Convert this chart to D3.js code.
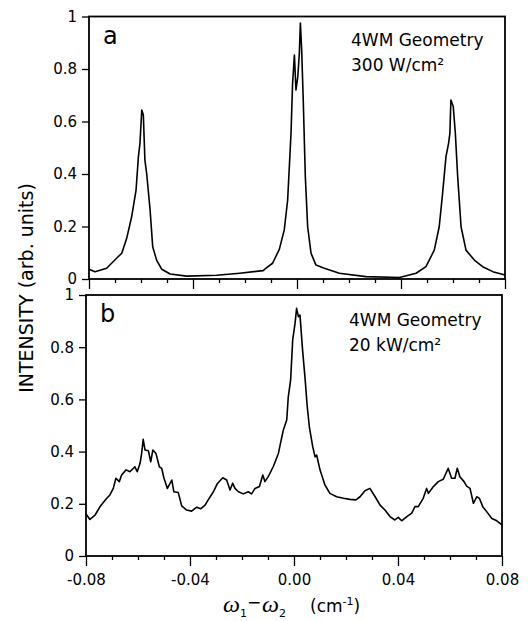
<!DOCTYPE html>
<html lang="en">
<head>
<meta charset="utf-8">
<title>4WM spectra</title>
<script src="https://cdn.jsdelivr.net/npm/d3@7"></script>
<style>
  body { margin: 0; background: #fff; }
  svg text { font-family: "DejaVu Sans", sans-serif; fill: #000; }
</style>
</head>
<body>
<svg id="chart" width="532" height="621"></svg>
<script>
// panel a: 300 W/cm2
var topX = [-0.08, -0.0777, -0.0732, -0.0694, -0.0674, -0.0655, -0.0636, -0.0619, -0.061, -0.0604,
  -0.0597, -0.0591, -0.0585, -0.0578, -0.0565, -0.0555, -0.054, -0.052, -0.0488, -0.0424,
  -0.0309, -0.022, -0.013, -0.0119, -0.0094, -0.0068, -0.0049, -0.0036, -0.0023, -0.0017,
  -0.001, -0.0004, 0.0003, 0.0009, 0.0013, 0.0018, 0.0024, 0.0032, 0.0041, 0.0054,
  0.0073, 0.0105, 0.0163, 0.0265, 0.0394, 0.0458, 0.0496, 0.0528, 0.0547, 0.056,
  0.0573, 0.0583, 0.0588, 0.0592, 0.0601, 0.0609, 0.0618, 0.0631, 0.065, 0.0682,
  0.0714, 0.0753, 0.08];
var topY = [0.037, 0.028, 0.041, 0.079, 0.098, 0.155, 0.237, 0.339, 0.466, 0.517,
  0.644, 0.625, 0.453, 0.40, 0.263, 0.123, 0.072, 0.037, 0.019, 0.011,
  0.014, 0.022, 0.032, 0.041, 0.06, 0.113, 0.187, 0.30, 0.555, 0.745,
  0.853, 0.72, 0.77, 0.86, 0.975, 0.872, 0.682, 0.39, 0.199, 0.098,
  0.053, 0.041, 0.022, 0.009, 0.006, 0.022, 0.047, 0.11, 0.199, 0.326,
  0.466, 0.517, 0.555, 0.682, 0.657, 0.555, 0.39, 0.199, 0.11, 0.072,
  0.047, 0.028, 0.015];

// panel b: 20 kW/cm2
var botX = [-0.08, -0.0797, -0.0785, -0.0765, -0.0746, -0.0736, -0.072, -0.0708, -0.0695, -0.0685,
  -0.0672, -0.0663, -0.0646, -0.0631, -0.0612, -0.0603, -0.0592, -0.0586, -0.058, -0.0573,
  -0.056, -0.0551, -0.0543, -0.0531, -0.0518, -0.0509, -0.05, -0.0487, -0.047, -0.0462,
  -0.0445, -0.0432, -0.0413, -0.0394, -0.0374, -0.0359, -0.0342, -0.033, -0.031, -0.0295,
  -0.0274, -0.0259, -0.0246, -0.0236, -0.0227, -0.0214, -0.0195, -0.0176, -0.0163, -0.015,
  -0.0133, -0.012, -0.0112, -0.0099, -0.008, -0.006, -0.0041, -0.0028, -0.0022, -0.0013,
  -0.0005, 0.0004, 0.001, 0.0017, 0.0023, 0.0033, 0.0042, 0.0051, 0.0059, 0.0072,
  0.0081, 0.0087, 0.01, 0.0119, 0.0138, 0.0164, 0.019, 0.0215, 0.0238, 0.0254,
  0.0273, 0.0292, 0.0312, 0.0331, 0.035, 0.0369, 0.0388, 0.0401, 0.0414, 0.0434,
  0.0453, 0.0465, 0.0478, 0.0497, 0.051, 0.0517, 0.0536, 0.0555, 0.0574, 0.0593,
  0.0606, 0.0619, 0.0628, 0.0638, 0.0654, 0.0664, 0.0677, 0.069, 0.0703, 0.0713,
  0.0726, 0.0741, 0.0761, 0.078, 0.08];
var botY = [0.16, 0.157, 0.14, 0.157, 0.189, 0.202, 0.221, 0.234, 0.259, 0.298,
  0.285, 0.31, 0.33, 0.323, 0.342, 0.323, 0.355, 0.393, 0.447, 0.406,
  0.403, 0.361, 0.406, 0.393, 0.342, 0.336, 0.298, 0.259, 0.291, 0.246,
  0.243, 0.192, 0.176, 0.172, 0.187, 0.181, 0.195, 0.215, 0.246, 0.277,
  0.30, 0.291, 0.253, 0.279, 0.259, 0.246, 0.238, 0.246, 0.238, 0.259,
  0.266, 0.31, 0.285, 0.304, 0.342, 0.393, 0.483, 0.521, 0.61, 0.674,
  0.828, 0.891, 0.949, 0.917, 0.923, 0.789, 0.687, 0.572, 0.495, 0.419,
  0.38, 0.387, 0.33, 0.272, 0.24, 0.227, 0.221, 0.217, 0.215, 0.227,
  0.25, 0.259, 0.227, 0.195, 0.176, 0.151, 0.138, 0.148, 0.135, 0.151,
  0.164, 0.189, 0.189, 0.221, 0.259, 0.24, 0.266, 0.285, 0.294, 0.336,
  0.298, 0.298, 0.336, 0.304, 0.285, 0.268, 0.259, 0.202, 0.227, 0.221,
  0.189, 0.17, 0.144, 0.135, 0.119];

var majorTicks = [-0.08, -0.04, 0, 0.04, 0.08];
var minorTicks = [-0.07, -0.06, -0.05, -0.03, -0.02, -0.01, 0.01, 0.02, 0.03, 0.05, 0.06, 0.07];
var yTicks = [0, 0.2, 0.4, 0.6, 0.8, 1];

var svg = d3.select("#chart");

var panels = [
  {xs: topX, ys: topY, x0: 89, x1: 505, y0: 279, y1: 16.5, letter: "a",
   note: ["4WM Geometry", "300 W/cm\u00b2"], noteX: 351, noteY: 46, labels: false},
  {xs: botX, ys: botY, x0: 86, x1: 502, y0: 556, y1: 295, letter: "b",
   note: ["4WM Geometry", "20 kW/cm\u00b2"], noteX: 349, noteY: 326, labels: true}
];

function yFmt(d) {
  if (d === 0) return "0";
  if (d === 1) return "1";
  return d.toFixed(1);
}

panels.forEach(function(p) {
  var x = d3.scaleLinear().domain([-0.08, 0.08]).range([p.x0, p.x1]);
  var y = d3.scaleLinear().domain([0, 1]).range([p.y0, p.y1]);

  // minor x ticks
  var gMin = svg.append("g")
    .attr("transform", "translate(0," + p.y0 + ")")
    .call(d3.axisBottom(x).tickValues(minorTicks).tickSize(4).tickFormat(""));
  gMin.select(".domain").remove();

  var gMaj = svg.append("g")
    .attr("transform", "translate(0," + p.y0 + ")")
    .call(d3.axisBottom(x).tickValues(majorTicks).tickSize(10)
      .tickFormat(p.labels ? function(d) { return d.toFixed(2); } : ""));
  gMaj.select(".domain").remove();
  gMaj.selectAll("text").attr("y", 18).attr("dy", "0.71em")
    .style("font-size", "15px").style("font-family", "DejaVu Sans");

  var gy = svg.append("g")
    .attr("transform", "translate(" + p.x0 + ",0)")
    .call(d3.axisLeft(y).tickValues(yTicks).tickSize(7).tickPadding(5).tickFormat(yFmt));
  gy.select(".domain").remove();
  gy.selectAll("text").style("font-size", "15px").style("font-family", "DejaVu Sans");

  svg.selectAll(".tick line").attr("stroke", "#000").attr("stroke-width", 1.3);

  // frame
  svg.append("rect")
    .attr("x", p.x0).attr("y", p.y1)
    .attr("width", p.x1 - p.x0).attr("height", p.y0 - p.y1)
    .attr("fill", "none").attr("stroke", "#000").attr("stroke-width", 1.8);

  var pts = p.xs.map(function(d, i) { return [d, p.ys[i]]; });
  var line = d3.line()
    .x(function(d) { return x(d[0]); })
    .y(function(d) { return y(d[1]); });

  svg.append("path")
    .datum(pts)
    .attr("d", line)
    .attr("fill", "none")
    .attr("stroke", "#000")
    .attr("stroke-width", 1.6)
    .attr("stroke-linejoin", "round");

  svg.append("text")
    .attr("x", p.x0 + 14).attr("y", p.y1 + 27)
    .style("font-size", "24px")
    .text(p.letter);

  svg.append("text")
    .attr("x", p.noteX).attr("y", p.noteY)
    .style("font-size", "17px")
    .text(p.note[0]);
  svg.append("text")
    .attr("x", p.noteX).attr("y", p.noteY + 25)
    .style("font-size", "17px")
    .text(p.note[1]);
});

// y axis title
svg.append("text")
  .attr("transform", "translate(33,288) rotate(-90)")
  .attr("text-anchor", "middle")
  .style("font-size", "19px")
  .text("INTENSITY (arb. units)");

// x axis title
var xt = svg.append("text").attr("y", 612);
xt.append("tspan").attr("x", 223)
  .style("font-family", "Liberation Serif").style("font-style", "italic").style("font-size", "24px")
  .text("\u03c9");
xt.append("tspan").attr("x", 240).attr("y", 617).style("font-size", "11px").text("1");
xt.append("tspan").attr("x", 247).attr("y", 608).style("font-size", "17px").text("\u2212");
xt.append("tspan").attr("x", 262).attr("y", 612)
  .style("font-family", "Liberation Serif").style("font-style", "italic").style("font-size", "24px")
  .text("\u03c9");
xt.append("tspan").attr("x", 279).attr("y", 617).style("font-size", "11px").text("2");
xt.append("tspan").attr("x", 310).attr("y", 612).style("font-size", "17px").text("(cm");
xt.append("tspan").attr("y", 605).style("font-size", "11px").text("-1");
xt.append("tspan").attr("y", 612).style("font-size", "17px").text(")");
</script>
</body>
</html>
